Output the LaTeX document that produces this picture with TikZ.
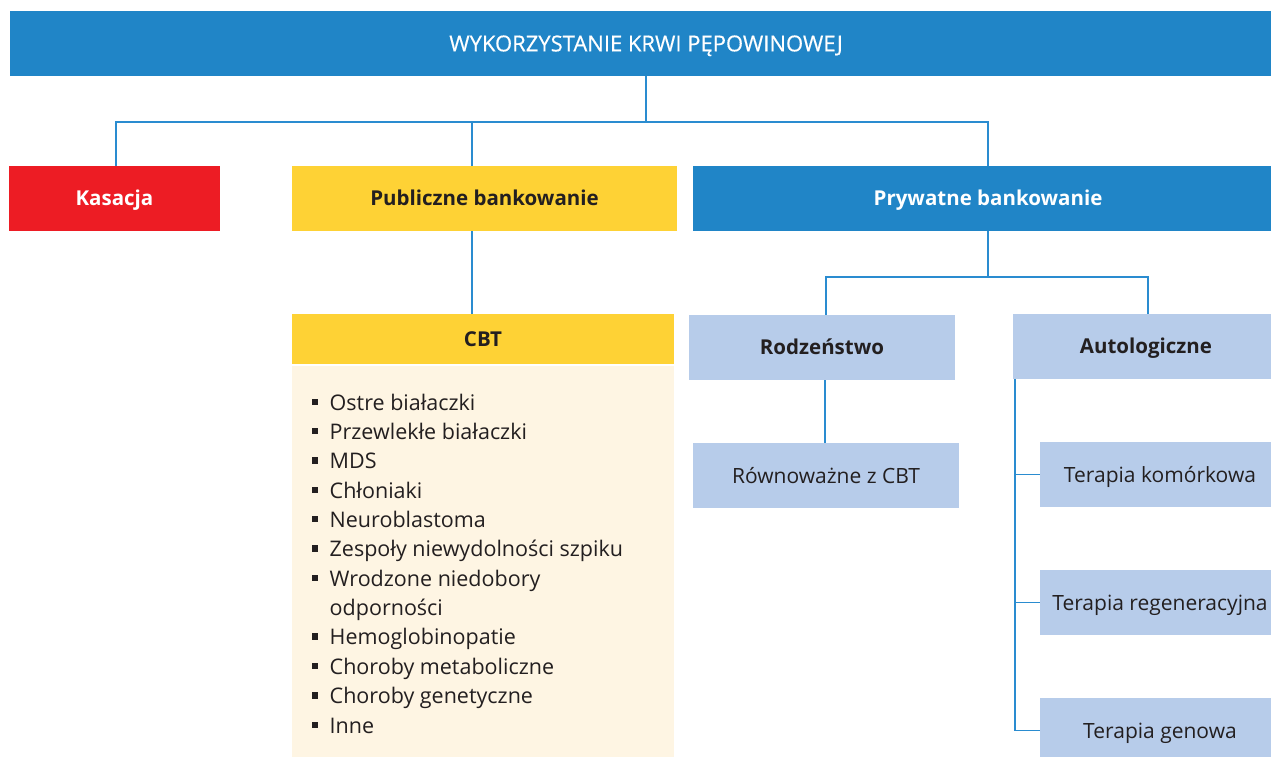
\documentclass[tikz,border=0pt]{standalone}
\usepackage{fontspec}
\setmainfont{Open Sans}
\newfontfamily\titlefont[FakeBold=0.5]{Open Sans}
\definecolor{mainblue}{HTML}{2085C7}
\definecolor{lineblue}{HTML}{2A8CD0}
\definecolor{kred}{HTML}{ED1C24}
\definecolor{kyellow}{HTML}{FED235}
\definecolor{lblue}{HTML}{B7CCEA}
\definecolor{cream}{HTML}{FEF5E3}
\definecolor{textdark}{HTML}{231F20}
\tikzset{
  box/.style={rectangle, inner sep=0pt, minimum height=65pt, text depth=0pt},
  boldlbl/.style={font=\fontsize{20.5}{24}\selectfont\bfseries, text=textdark, text height=14.6pt},
  plainlbl/.style={font=\fontsize{21}{24}\selectfont, text=textdark, text height=15pt},
  conn/.style={draw=lineblue, line width=1.3pt},
  item/.style={anchor=base west, inner sep=0pt, font=\fontsize{21.5}{24}\selectfont, text=textdark},
}
\newcommand{\blt}{\llap{\raisebox{5pt}{\rule{6.5pt}{6.5pt}}\hspace{11.4pt}}}
\begin{document}
\begin{tikzpicture}[x=1pt,y=-1pt]
\useasboundingbox (0,0) rectangle (1271,756);
\clip (0,0) rectangle (1271,756);
% level 0
\node[box, fill=mainblue, minimum width=1272pt, text=white, font=\fontsize{22}{26}\selectfont\titlefont, text height=15.7pt] (title) at (646,43.5) {WYKORZYSTANIE KRWI PĘPOWINOWEJ};
% level 1
\node[box, fill=kred, minimum width=211pt, boldlbl, text=white] (kas) at (114.5,198.5) {Kasacja};
\node[box, fill=kyellow, minimum width=385pt, boldlbl] (pub) at (484.5,198.5) {Publiczne bankowanie};
\node[box, fill=mainblue, minimum width=590pt, boldlbl, text=white] (priv) at (988,198.5) {Prywatne bankowanie};
% CBT
\node[box, fill=kyellow, minimum width=382pt, minimum height=50pt, boldlbl] (cbt) at (483,339) {CBT};
\node[rectangle, inner sep=0pt, fill=cream, minimum width=382pt, minimum height=400pt] (cbtbody) at (483,566) {};
% private branches
\node[box, fill=lblue, minimum width=266pt, boldlbl] (rod) at (822,347.5) {Rodzeństwo};
\node[box, fill=lblue, minimum width=266pt, plainlbl] (rown) at (826,475.5) {Równoważne z CBT};
\node[box, fill=lblue, minimum width=266pt, boldlbl] (auto) at (1146,346.5) {Autologiczne};
\node[box, fill=lblue, minimum width=240pt, plainlbl] (ter1) at (1160,474.5) {Terapia komórkowa};
\node[box, fill=lblue, minimum width=240pt, plainlbl] (ter2) at (1160,602.5) {Terapia regeneracyjna};
\node[box, fill=lblue, minimum width=240pt, plainlbl] (ter3) at (1160,730.5) {Terapia genowa};
% list
\node[item] (l1) at (329.5,410) {\blt Ostre białaczki};
\node[item] (l2) at (329.5,439.4) {\blt Przewlekłe białaczki};
\node[item] (l3) at (329.5,468.7) {\blt MDS};
\node[item] (l4) at (329.5,498.1) {\blt Chłoniaki};
\node[item] (l5) at (329.5,527.4) {\blt Neuroblastoma};
\node[item] (l6) at (329.5,556.8) {\blt Zespoły niewydolności szpiku};
\node[item] (l7) at (329.5,586.2) {\blt Wrodzone niedobory};
\node[item] (l7b) at (329.5,615.5) {odporności};
\node[item] (l8) at (329.5,644.9) {\blt Hemoglobinopatie};
\node[item] (l9) at (329.5,674.2) {\blt Choroby metaboliczne};
\node[item] (l10) at (329.5,703.6) {\blt Choroby genetyczne};
\node[item] (l11) at (329.5,733) {\blt Inne};
% junctions
\coordinate (busL) at (116,122);
\coordinate (busP) at (472,122);
\coordinate (busR) at (988,122);
\coordinate (pj) at (988,277);
\coordinate (pL) at (826,277);
\coordinate (pR) at (1148,277);
\coordinate (spine) at (1015,379);
% connectors
\draw[conn] (title.south) -- (title.south |- busL);
\draw[conn] (kas.north -| busL) -- (busL) -- (busR) -- (priv.north);
\draw[conn] (busP) -- (busP |- pub.north);
\draw[conn] (busP |- pub.south) -- (busP |- cbt.north);
\draw[conn] (priv.south) -- (pj);
\draw[conn] (rod.north -| pL) -- (pL) -- (pR) -- (auto.north -| pR);
\draw[conn] (rod.south -| 825,0) -- (rown.north -| 825,0);
\draw[conn] (spine |- auto.south) -- (spine |- ter3.west) -- (ter3.west);
\draw[conn] (ter1.west -| spine) -- (ter1.west);
\draw[conn] (ter2.west -| spine) -- (ter2.west);
\end{tikzpicture}
\end{document}
